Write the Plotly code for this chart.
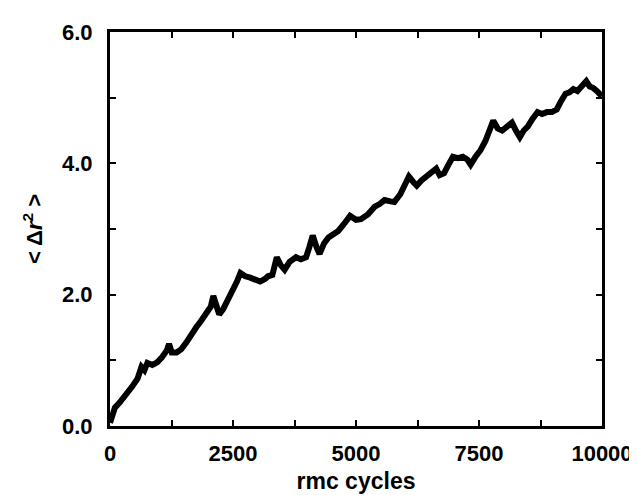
import plotly.graph_objects as go

cycles = [0, 50, 100, 200, 360, 450, 560, 640, 700, 760, 860, 960, 1060, 1155, 1200, 1255,
          1355, 1450, 1550, 1650, 1750, 1850, 1950, 2050, 2100, 2150, 2220, 2300, 2410, 2500,
          2580, 2650, 2750, 2850, 2950, 3050, 3150, 3210, 3300, 3390, 3470, 3550, 3650, 3780,
          3880, 3985, 4050, 4120, 4200, 4260, 4350, 4440, 4540, 4640, 4760, 4880, 5000, 5100,
          5240, 5380, 5480, 5580, 5700, 5780, 5900, 6000, 6075, 6160, 6235, 6330, 6435, 6530,
          6630, 6700, 6790, 6880, 6970, 7070, 7170, 7260, 7330, 7430, 7530, 7630, 7720, 7790,
          7880, 7970, 8070, 8170, 8250, 8330, 8410, 8490, 8590, 8690, 8780, 8880, 8980, 9080,
          9170, 9260, 9340, 9420, 9500, 9560, 9620, 9680, 9750, 9820, 9900, 10000]
msd = [0.05, 0.2, 0.28, 0.36, 0.5, 0.6, 0.72, 0.9, 0.85, 0.96, 0.93, 0.97, 1.05, 1.15, 1.25, 1.12,
       1.12, 1.17, 1.27, 1.4, 1.5, 1.6, 1.7, 1.82, 1.98, 1.84, 1.7, 1.78, 1.93, 2.05,
       2.2, 2.33, 2.28, 2.26, 2.22, 2.2, 2.24, 2.28, 2.3, 2.57, 2.45, 2.38, 2.5, 2.57,
       2.54, 2.57, 2.72, 2.9, 2.72, 2.62, 2.78, 2.87, 2.92, 2.97, 3.08, 3.2, 3.14, 3.15,
       3.22, 3.34, 3.38, 3.44, 3.42, 3.41, 3.53, 3.68, 3.8, 3.72, 3.66, 3.74, 3.8, 3.86,
       3.92, 3.82, 3.85, 3.98, 4.1, 4.08, 4.1, 4.06, 3.98, 4.1, 4.2, 4.34, 4.5, 4.65,
       4.53, 4.5, 4.56, 4.62, 4.5, 4.4, 4.5, 4.56, 4.68, 4.78, 4.75, 4.78, 4.78, 4.82,
       4.95, 5.06, 5.08, 5.13, 5.1, 5.14, 5.2, 5.25, 5.17, 5.15, 5.1, 5.02]

x_ticks = [0, 2500, 5000, 7500, 10000]
x_tick_labels = ["0", "2500", "5000", "7500", "10000"]
y_ticks = [0, 2, 4, 6]
y_tick_labels = ["0.0", "2.0", "4.0", "6.0"]

font = dict(family="Liberation Sans, Arial, sans-serif", color="black", weight="bold")

fig = go.Figure()
fig.add_trace(go.Scatter(x=cycles, y=msd, mode="lines",
                         line=dict(color="black", width=6), showlegend=False))

fig.update_layout(
    width=637, height=495,
    margin=dict(l=102, r=33, t=24, b=63),
    paper_bgcolor="white", plot_bgcolor="white",
    font=font,
)
fig.update_xaxes(
    range=[0, 10000], showgrid=False, zeroline=False,
    showline=True, linecolor="black", linewidth=3, mirror="ticks",
    ticks="inside", ticklen=6, tickwidth=2, tickcolor="black",
    tickmode="array", tickvals=x_ticks, ticktext=x_tick_labels,
    minor=dict(dtick=1250, ticks="inside", ticklen=6, tickwidth=2, tickcolor="black", showgrid=False),
    tickfont=dict(size=22, **font), ticklabelstandoff=6,
    title=dict(text="rmc cycles", font=dict(size=23, **font), standoff=8),
)
fig.update_yaxes(
    range=[0, 6], showgrid=False, zeroline=False,
    showline=True, linecolor="black", linewidth=3, mirror="ticks",
    ticks="inside", ticklen=6, tickwidth=2, tickcolor="black",
    tickmode="array", tickvals=y_ticks, ticktext=y_tick_labels,
    minor=dict(dtick=1, ticks="inside", ticklen=6, tickwidth=2, tickcolor="black", showgrid=False),
    tickfont=dict(size=22, **font), ticklabelstandoff=10,
    title=dict(text="&lt; Δ<i>r</i><sup>2</sup> &gt;", font=dict(size=22, **font), standoff=14),
)

fig.write_html("out.html")
